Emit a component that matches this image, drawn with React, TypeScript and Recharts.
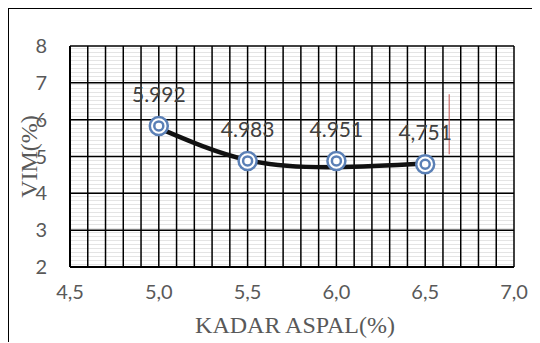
import React from "react";
import {
  LineChart,
  Line,
  XAxis,
  YAxis,
  CartesianGrid,
  ReferenceLine,
  LabelList,
  Label,
} from "recharts";

// kadar aspal (%)
const KADAR = [5.0, 5.5, 6.0, 6.5];
// VIM values (marker positions)
const VIM = [5.83, 4.88, 4.88, 4.79];
// polynomial trend line
const TREND = [5.77, 4.9, 4.71, 4.81];
// data labels as printed
const LABELS = ["5.992", "4.983", "4.951", "4,751"];

const X_TICKS = [
  4.5, 4.6, 4.7, 4.8, 4.9, 5.0, 5.1, 5.2, 5.3, 5.4, 5.5, 5.6, 5.7, 5.8, 5.9,
  6.0, 6.1, 6.2, 6.3, 6.4, 6.5, 6.6, 6.7, 6.8, 6.9, 7.0,
];
const Y_TICKS = [2, 3, 4, 5, 6, 7, 8];

const data = KADAR.map((x, i) => ({
  x,
  vim: VIM[i],
  trend: TREND[i],
  label: LABELS[i],
}));

const TICK_FONT = { fontFamily: "Lato, sans-serif", fontSize: 20, fill: "#595959" };

const formatX = (v: number) => {
  if (Math.abs(v * 2 - Math.round(v * 2)) > 1e-6) return "";
  return v.toFixed(1).replace(".", ",");
};

const RingDot = (props: any) => {
  const { cx, cy } = props;
  if (cx == null || cy == null) return null;
  return (
    <g>
      <circle cx={cx} cy={cy} r={9} fill="#fff" stroke="#5b80b6" strokeWidth={2.5} />
      <circle cx={cx} cy={cy} r={4.5} fill="#fff" stroke="#5b80b6" strokeWidth={2.5} />
    </g>
  );
};

export default function App() {
  return (
    <div
      style={{
        position: "relative",
        width: 532,
        height: 335,
        borderTop: "2px solid #000",
        borderLeft: "2px solid #000",
        boxSizing: "border-box",
        marginTop: -1,
        marginLeft: -1,
        background: "#fff",
      }}
    >
      <div style={{ position: "absolute", left: -1, top: -1 }}>
        <LineChart
          width={532}
          height={335}
          data={data}
          margin={{ top: 38, right: 26, bottom: 46, left: 0 }}
        >
          <defs>
            <pattern id="hpat" width="4" height="4" patternUnits="userSpaceOnUse">
              <rect width="4" height="4" fill="#ffffff" />
              <rect y="0" width="4" height="1" fill="#e4e4e4" />
            </pattern>
          </defs>
          <CartesianGrid
            stroke="#000"
            strokeWidth={1.5}
            fill="url(#hpat)"
            fillOpacity={1}
          />
          <XAxis
            dataKey="x"
            type="number"
            domain={[4.5, 7.0]}
            ticks={X_TICKS}
            interval={0}
            tickFormatter={formatX}
            tickLine={false}
            tickSize={0}
            tickMargin={18}
            height={30}
            axisLine={{ stroke: "#000", strokeWidth: 2 }}
            tick={TICK_FONT}
          >
            <Label
              content={({ viewBox }: any) => (
                <text
                  x={viewBox.x + viewBox.width / 2 + 3}
                  y={325}
                  textAnchor="middle"
                  fontFamily="'Liberation Serif', 'Times New Roman', serif"
                  fontSize={24}
                  fill="#595959"
                >
                  KADAR ASPAL(%)
                </text>
              )}
            />
          </XAxis>
          <YAxis
            type="number"
            domain={[2, 8]}
            ticks={Y_TICKS}
            interval={0}
            width={62}
            tickLine={false}
            tickSize={0}
            tickMargin={23}
            axisLine={{ stroke: "#000", strokeWidth: 2 }}
            tick={TICK_FONT}
          >
            <Label
              content={({ viewBox }: any) => {
                const x = 29;
                const y = viewBox.y + viewBox.height / 2;
                return (
                  <text
                    x={x}
                    y={y}
                    textAnchor="middle"
                    transform={`rotate(-90, ${x}, ${y})`}
                    fontFamily="'Liberation Serif', 'Times New Roman', serif"
                    fontSize={24}
                    fill="#595959"
                  >
                    VIM(%)
                  </text>
                );
              }}
            />
          </YAxis>
          <ReferenceLine
            segment={[
              { x: 6.635, y: 6.69 },
              { x: 6.635, y: 5.06 },
            ]}
            stroke="#c0504d"
            strokeWidth={1}
          />
          <Line
            dataKey="vim"
            stroke="none"
            dot={<RingDot />}
            activeDot={false}
            isAnimationActive={false}
          >
            <LabelList
              dataKey="label"
              position="top"
              offset={24}
              style={{ fontFamily: "Lato, sans-serif", fontSize: 21, fill: "#404040" }}
            />
          </Line>
          <Line
            dataKey="trend"
            type="natural"
            stroke="#111"
            strokeWidth={4.5}
            strokeLinecap="round"
            dot={false}
            activeDot={false}
            isAnimationActive={false}
          />
        </LineChart>
      </div>
    </div>
  );
}
